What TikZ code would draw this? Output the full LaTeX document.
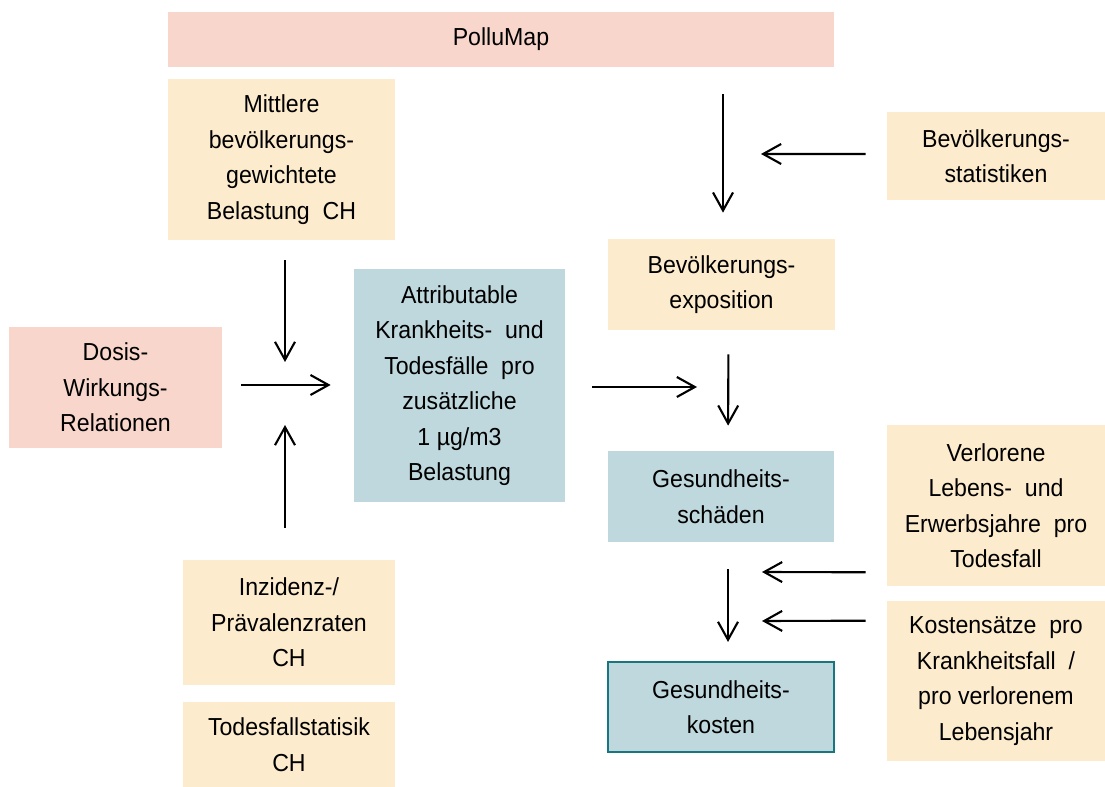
\documentclass[tikz,border=0pt]{standalone}
\usepackage{fontspec}
\setmainfont{Liberation Sans}[FakeStretch=0.94]
\usepackage{tikz}
\usetikzlibrary{arrows.meta,calc}

\definecolor{pollupink}{RGB}{248,214,203}
\definecolor{inputcream}{RGB}{252,235,204}
\definecolor{resultblue}{RGB}{191,216,221}
\definecolor{costteal}{RGB}{24,118,128}

\begin{document}
\begin{tikzpicture}[>={Straight Barb[length=0.36cm,width=0.4cm]},
  box/.style={inner sep=0pt, align=center, font=\fontsize{14}{20.2}\selectfont},
  model/.style={box, fill=pollupink},
  src/.style={box, fill=inputcream},
  res/.style={box, fill=resultblue},
  arr/.style={->, line width=1.2pt}]
\useasboundingbox (0,0) rectangle (22.1,-15.74);

% Top: the model and its inputs
\node[model, minimum width=13.32cm, minimum height=1.10cm] (pollumap) at (10.02,-0.79) {PolluMap};
\node[src, minimum width=4.54cm, minimum height=3.22cm] (mittlere) at (5.63,-3.19) {Mittlere\\bevölkerungs-\\gewichtete\\Belastung~ CH};
\node[src, minimum width=4.36cm, minimum height=1.76cm] (bevstat) at (19.92,-3.12) {Bevölkerungs-\\statistiken};
\node[src, minimum width=4.54cm, minimum height=1.82cm] (bevexp) at (14.43,-5.69) {Bevölkerungs-\\exposition};

% Left column: dose-response and rates
\node[model, minimum width=4.26cm, minimum height=2.42cm] (dosis) at (2.31,-7.75) {Dosis-\\Wirkungs-\\Relationen};
\node[res, minimum width=4.22cm, minimum height=4.66cm] (attrib) at (9.19,-7.71) {Attributable\\Krankheits-~ und\\Todesfälle~ pro\\zusätzliche\\1 µg/m3\\Belastung};
\node[src, minimum width=4.24cm, minimum height=2.50cm] (inzidenz) at (5.78,-12.45) {Inzidenz-/\\Prävalenzraten\\CH};
\node[src, minimum width=4.24cm, minimum height=1.70cm] (todes) at (5.78,-14.89) {Todesfallstatisik\\CH};

% Right column: damages and costs
\node[res, minimum width=4.52cm, minimum height=1.82cm] (schaeden) at (14.42,-9.93) {Gesundheits-\\schäden};
\node[res, draw=costteal, line width=1.2pt, minimum width=4.52cm, minimum height=1.80cm] (gkosten) at (14.42,-14.14) {Gesundheits-\\kosten};
\node[src, minimum width=4.36cm, minimum height=3.22cm] (verloren) at (19.92,-10.11) {Verlorene\\Lebens-~ und\\Erwerbsjahre~ pro\\Todesfall};
\node[src, minimum width=4.36cm, minimum height=3.20cm] (kosten) at (19.92,-13.62) {Kostensätze~ pro\\Krankheitsfall~ /\\pro verlorenem\\Lebensjahr};

% Free arrow ends
\coordinate (hub) at (5.70,-7.70);
\coordinate (expin) at (15.22,-3.08);
\coordinate (lossin) at (15.24,-11.44);
\coordinate (ratein) at (15.24,-12.42);

% Arrows
\draw[arr, shorten <=0.54cm, shorten >=0.52cm] ([xshift=0.03cm]bevexp.north |- pollumap.south) -- ([xshift=0.03cm]bevexp.north);
\draw[arr, shorten <=0.42cm] ([yshift=0.04cm]bevstat.west) -- (expin);
\draw[arr, shorten <=0.40cm, shorten >=0.46cm] (hub |- mittlere.south) -- (hub);
\draw[arr, shorten <=0.64cm, shorten >=0.80cm] (hub |- inzidenz.north) -- (hub);
\draw[arr, shorten <=0.38cm, shorten >=0.46cm] (hub -| dosis.east) -- (hub -| attrib.west);
\draw[arr, shorten <=0.54cm, shorten >=0.48cm] ([yshift=-0.03cm]attrib.east) -- ([yshift=-0.03cm]attrib.east -| schaeden.north);
\draw[arr, shorten <=0.48cm, shorten >=0.50cm] ([xshift=0.14cm]bevexp.south) -- ([xshift=0.14cm]schaeden.north);
\draw[arr, shorten <=0.54cm, shorten >=0.38cm] ([xshift=0.14cm]schaeden.south) -- ([xshift=0.14cm]gkosten.north);
\draw[arr, shorten <=0.42cm] ([yshift=0.28cm]verloren.south west) -- (lossin);
\draw[arr, shorten <=0.42cm] ([yshift=-0.40cm]kosten.north west) -- (ratein);
\end{tikzpicture}
\end{document}
